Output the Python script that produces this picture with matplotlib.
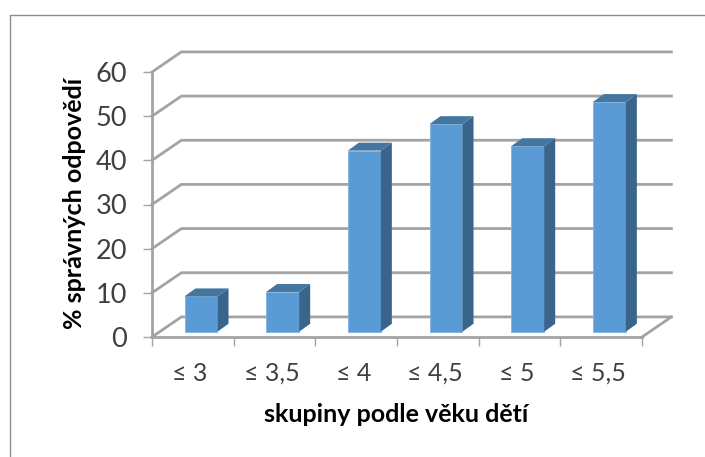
import matplotlib
matplotlib.use("Agg")
import matplotlib.pyplot as plt
from matplotlib.lines import Line2D
from matplotlib.patches import Polygon

plt.rcParams["font.family"] = ["Lato", "DejaVu Sans"]

categories = ["≤ 3", "≤ 3,5", "≤ 4", "≤ 4,5", "≤ 5", "≤ 5,5"]
values = [8, 9, 41, 47, 42, 52]
y_ticks = [0, 10, 20, 30, 40, 50, 60]

W, H = 705, 457
fig = plt.figure(figsize=(W / 100, H / 100), dpi=100, facecolor="white")

# axes box = front of the fake 3D chart, in pixels of the reference
left, right, top, bottom = 152, 642, 72, 337
ax = fig.add_axes([left / W, 1 - bottom / H, (right - left) / W, (bottom - top) / H])
ax.set_xlim(0, 6)
ax.set_ylim(0, 60)
ax.patch.set_alpha(0)

# depth of the 3D box and of the bars, in data units
depth_x, depth_y = 0.36, 4.55
bar_dx, bar_dy = 0.135, 1.8
floor = 1.2
grid_col = "#a3a3a3"

for v in y_ticks:
    ax.plot([0, depth_x, 6 + depth_x], [v, v + depth_y, v + depth_y], color=grid_col,
            lw=2, clip_on=False, zorder=1, solid_joinstyle="miter")
ax.plot([6, 6 + depth_x], [0, depth_y], color=grid_col, lw=2, clip_on=False, zorder=1)

# bars: front, side, top
xs = [i + 0.6 for i in range(len(values))]
width = 0.404
ax.bar(xs, values, width=width, bottom=floor, color="#5b9bd5", edgecolor="#7fb2e0",
       linewidth=0.6, zorder=3, clip_on=False)
for x, v in zip(xs, values):
    x0, x1 = x - width / 2, x + width / 2
    y1 = floor + v
    ax.add_patch(Polygon([(x1, floor), (x1 + bar_dx, floor + bar_dy), (x1 + bar_dx, y1 + bar_dy), (x1, y1)],
                         facecolor="#39658d", edgecolor="none", zorder=3, clip_on=False))
    ax.add_patch(Polygon([(x0, y1), (x0 + bar_dx, y1 + bar_dy), (x1 + bar_dx, y1 + bar_dy), (x1, y1)],
                         facecolor="#44769f", edgecolor="none", zorder=3, clip_on=False))

for s in ["top", "right"]:
    ax.spines[s].set_visible(False)
for s in ["left", "bottom"]:
    ax.spines[s].set_color(grid_col)
    ax.spines[s].set_linewidth(2)

ax.set_yticks(y_ticks)
ax.set_xticks(range(7))
ax.set_xticklabels([])
ax.tick_params(axis="y", length=6.5, width=1, color=grid_col, labelsize=19.5, labelcolor="#404040", pad=11.5)
ax.tick_params(axis="x", length=6.5, width=1, color=grid_col)
for i, c in enumerate(categories):
    ax.annotate(c, (i + 0.5, 0), xytext=(-2, -18), xycoords="data", textcoords="offset points",
                ha="center", va="top", fontsize=18, color="#404040", annotation_clip=False)

fig.text(396 / W, 1 - 415 / H, "skupiny podle věku dětí", ha="center", va="center",
         fontsize=18, fontweight="bold", color="black")
fig.text(75 / W, 1 - 203 / H, "% správných odpovědí", rotation=90, ha="center", va="center",
         fontsize=18, fontweight="bold", color="black")

# chart frame, cut off by the screenshot
fig.add_artist(Line2D([10 / W, 10 / W, 1], [0, 1 - 14.5 / H, 1 - 14.5 / H], color="#8c8c8c", lw=1))

fig.savefig("out.png", dpi=100)
